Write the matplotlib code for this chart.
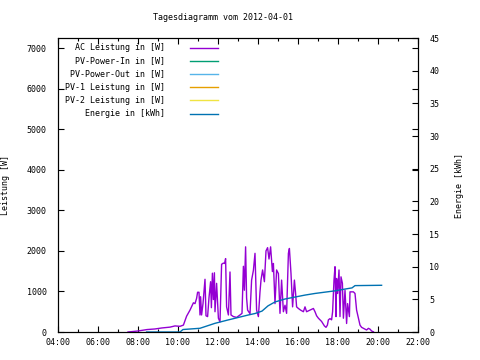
import matplotlib
matplotlib.use('Agg')
import matplotlib.pyplot as plt
from matplotlib.lines import Line2D
from matplotlib.ticker import MultipleLocator, FuncFormatter

# AC Leistung [W], time in decimal hours
ac_zeit = [7.5, 8.0, 8.45, 8.85, 9.2, 9.6, 9.85, 10.1, 10.27, 10.43, 10.6, 10.77,
           10.85, 10.93, 10.98, 11.05, 11.1, 11.13, 11.18, 11.25, 11.35, 11.4, 11.48,
           11.55, 11.63, 11.67, 11.72, 11.77, 11.82, 11.85, 11.93, 12.02, 12.1, 12.18,
           12.27, 12.33, 12.38, 12.43, 12.52, 12.6, 12.65, 12.77, 12.93, 13.1, 13.2,
           13.27, 13.32, 13.38, 13.43, 13.48, 13.6, 13.68, 13.77, 13.85, 13.93, 14.02,
           14.1, 14.15, 14.23, 14.32, 14.4, 14.48, 14.55, 14.63, 14.72, 14.77, 14.85,
           14.93, 15.02, 15.1, 15.18, 15.27, 15.35, 15.43, 15.52, 15.57, 15.65, 15.73,
           15.82, 15.88, 15.93, 16.02, 16.13, 16.27, 16.35, 16.43, 16.6, 16.77, 16.85,
           16.93, 17.02, 17.1, 17.18, 17.32, 17.4, 17.47, 17.52, 17.6, 17.68, 17.73,
           17.8, 17.85, 17.9, 17.93, 17.98, 18.05, 18.1, 18.15, 18.22, 18.27, 18.35,
           18.43, 18.48, 18.57, 18.6, 18.77, 18.85, 18.93, 19.02, 19.1, 19.18, 19.27,
           19.35, 19.43, 19.52, 19.6, 19.68, 19.77]
ac_leistung = [0, 25, 60, 75, 100, 120, 150, 140, 170, 390, 540, 720,
               700, 830, 980, 980, 420, 870, 420, 700, 1300, 400, 380,
               850, 1240, 600, 1450, 800, 1460, 500, 1200, 340, 250, 1670,
               1700, 1690, 1810, 620, 420, 1480, 420, 380, 360, 420, 460,
               1620, 1030, 2100, 840, 540, 450, 1280, 1520, 1940, 540, 380,
               990, 1280, 1530, 1240, 2000, 2080, 1800, 2100, 1490, 1690, 700,
               1530, 1440, 460, 1280, 500, 660, 460, 1940, 2060, 1440, 620,
               1280, 950, 620, 580, 540, 500, 620, 500, 540, 580, 500,
               400, 340, 300, 260, 150, 115, 170, 300, 330, 300, 500,
               1280, 1610, 380, 1320, 950, 1530, 380, 1360, 1200, 340, 1030,
               210, 700, 380, 990, 990, 950, 540, 340, 170, 115, 90,
               70, 50, 90, 70, 25, 5]

# Energie [kWh]
e_zeit = [8.43, 10.1, 10.25, 11.1, 11.85, 12.5, 12.98, 13.51, 13.85, 14.2, 14.5,
          14.85, 15.35, 15.85, 16.35, 16.85, 17.85, 18.5, 18.7, 18.85, 20.18]
energie = [0, 0, 0.38, 0.57, 1.33, 1.84, 2.2, 2.6, 2.83, 3.2, 4.0,
           4.6, 5.05, 5.35, 5.65, 5.9, 6.3, 6.65, 6.75, 7.1, 7.15]

legende = ['AC Leistung in [W]', 'PV-Power-In in [W]', 'PV-Power-Out in [W]',
           'PV-1 Leistung in [W]', 'PV-2 Leistung in [W]', 'Energie in [kWh]']
farben = ['#9400D3', '#009E73', '#56B4E9', '#E69F00', '#F0E442', '#0072B2']

plt.rcParams['font.family'] = ['DejaVu Sans Mono']
plt.rcParams['font.size'] = 6

fig = plt.figure(figsize=(4.8, 3.6), dpi=100)
ax = fig.add_axes([58/480, 28/360, 360/480, 294/360])
ax2 = ax.twinx()

ax.plot(ac_zeit, ac_leistung, color=farben[0], lw=1.0)
ax2.plot(e_zeit, energie, color=farben[5], lw=1.0)

ax.set_xlim(4, 22)
ax.set_ylim(0, 7250)
ax2.set_ylim(0, 45)

ax.xaxis.set_major_locator(MultipleLocator(2))
ax.xaxis.set_minor_locator(MultipleLocator(1))
ax.xaxis.set_major_formatter(FuncFormatter(lambda v, p: '%02d:00' % int(v)))
ax.yaxis.set_major_locator(MultipleLocator(1000))
ax2.yaxis.set_major_locator(MultipleLocator(5))

ax.tick_params(axis='both', which='both', direction='in', top=True, right=True, width=0.8)
ax.tick_params(axis='both', which='major', length=4)
ax.tick_params(axis='x', which='minor', length=2)
ax.tick_params(axis='y', pad=8)
ax.tick_params(axis='x', pad=4)
ax2.tick_params(axis='y', direction='in', length=4, width=0.8, pad=8)

ax.set_ylabel('Leistung [W]')
ax.yaxis.set_label_coords(-0.133, 0.5)
ax2.set_ylabel('Energie [kWh]')
ax2.yaxis.set_label_coords(1.103, 0.5)

for s in list(ax.spines.values()) + list(ax2.spines.values()):
    s.set_linewidth(0.8)

fig.text(223/480, 1 - 18/360, 'Tagesdiagramm vom 2012-04-01', ha='center', va='center')

# legend in gnuplot style: text right-aligned, sample line to the right
for i, (txt, c) in enumerate(zip(legende, farben)):
    y = 1 - (47.5 + i * 13.2 - 38) / 294
    ax.text((165 - 58) / 360, y, txt, transform=ax.transAxes, ha='right', va='center')
    ax.add_line(Line2D([(190 - 58) / 360, (218 - 58) / 360], [y, y],
                       transform=ax.transAxes, color=c, lw=1.0))

fig.savefig('out.png', dpi=100)
